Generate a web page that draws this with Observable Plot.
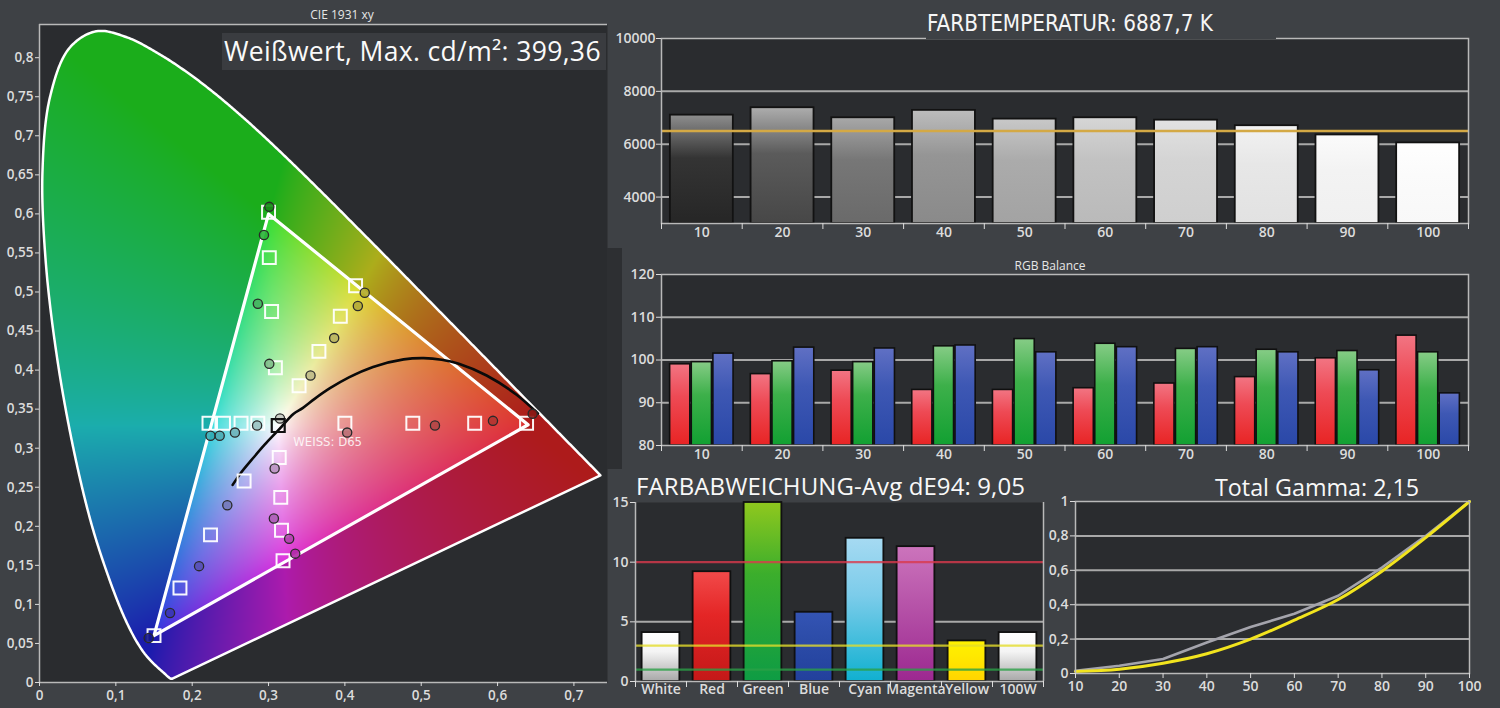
<!DOCTYPE html>
<html><head><meta charset="utf-8">
<script src="https://cdn.jsdelivr.net/npm/d3@7"></script>
<script src="https://cdn.jsdelivr.net/npm/@observablehq/plot@0.6"></script>
<style>
html,body{margin:0;padding:0;background:#3e4145;}
#root{position:relative;width:1500px;height:708px;overflow:hidden;background:#3e4145;font-family:"Open Sans",sans-serif;}
#root svg{position:absolute;overflow:visible;}
.t{position:absolute;white-space:nowrap;color:#f2f2f2;}
</style>
</head><body>
<div id="root"></div>
<script>
// ---------------- DATA ----------------
// CIE 1931 spectral locus (380..700 nm)
const locusX = [0.1741,0.1740,0.1738,0.1736,0.1733,0.1730,0.1726,0.1721,0.1714,0.1703,0.1689,0.1669,0.1644,0.1611,0.1566,0.1510,0.1440,0.1355,0.1241,0.1096,0.0913,0.0687,0.0454,0.0235,0.0082,0.0039,0.0139,0.0389,0.0743,0.1142,0.1547,0.1929,0.2296,0.2658,0.3016,0.3373,0.3731,0.4087,0.4441,0.4788,0.5125,0.5448,0.5752,0.6029,0.6270,0.6482,0.6658,0.6801,0.6915,0.7006,0.7079,0.7140,0.7190,0.7230,0.7260,0.7283,0.7300,0.7347];
const locusY = [0.0050,0.0050,0.0049,0.0049,0.0048,0.0048,0.0048,0.0048,0.0051,0.0058,0.0069,0.0086,0.0109,0.0138,0.0177,0.0227,0.0297,0.0399,0.0578,0.0868,0.1327,0.2007,0.2950,0.4127,0.5384,0.6548,0.7502,0.8120,0.8338,0.8262,0.8059,0.7816,0.7543,0.7243,0.6923,0.6589,0.6245,0.5896,0.5547,0.5202,0.4866,0.4544,0.4242,0.3965,0.3725,0.3514,0.3340,0.3197,0.3083,0.2993,0.2920,0.2859,0.2809,0.2770,0.2740,0.2717,0.2700,0.2653];
// Rec.709 gamut triangle R, G, B
const gamutX = [0.64, 0.30, 0.15];
const gamutY = [0.33, 0.60, 0.06];
// Planckian locus (25000 K .. 1000 K)
const planckX = [0.2530,0.2637,0.2807,0.2952,0.3135,0.3325,0.3451,0.3608,0.3805,0.4053,0.4369,0.4770,0.5033,0.5267,0.5493,0.5857,0.6249,0.6528];
const planckY = [0.2530,0.2683,0.2884,0.3048,0.3237,0.3439,0.3516,0.3635,0.3768,0.3907,0.4041,0.4137,0.4153,0.4133,0.4082,0.3931,0.3684,0.3444];
// target points (squares)
const targetX = [0.300,0.301,0.304,0.309, 0.414,0.394,0.366,0.340, 0.222,0.241,0.264,0.286, 0.400,0.489,0.570,0.638, 0.268,0.224,0.184,0.150, 0.314,0.316,0.317,0.319];
const targetY = [0.602,0.544,0.475,0.403, 0.508,0.469,0.424,0.380, 0.332,0.332,0.332,0.332, 0.332,0.332,0.332,0.332, 0.258,0.189,0.121,0.060, 0.288,0.237,0.195,0.156];
// measured points (circles)
const measX = [0.301,0.294,0.286,0.301, 0.426,0.417,0.386,0.355, 0.224,0.236,0.256,0.285, 0.315,0.403,0.518,0.594,0.646, 0.308,0.246,0.307,0.327,0.335, 0.209,0.171,0.143];
const measY = [0.609,0.573,0.485,0.408, 0.499,0.482,0.441,0.393, 0.316,0.316,0.320,0.329, 0.338,0.320,0.329,0.335,0.344, 0.274,0.227,0.210,0.184,0.165, 0.149,0.089,0.057];
const whitePoint = [0.3127, 0.329];
const whiteLabel = "WEISS: D65";
const cieTitle = "CIE 1931 xy";
const cieLabel = "Weißwert, Max. cd/m²: 399,36";
const cieXTicks = [0,0.1,0.2,0.3,0.4,0.5,0.6,0.7];
const cieYTicks = [0,0.05,0.1,0.15,0.2,0.25,0.3,0.35,0.4,0.45,0.5,0.55,0.6,0.65,0.7,0.75,0.8];

// Farbtemperatur
const levels = ["10","20","30","40","50","60","70","80","90","100"];
const colorTemp = [7100, 7380, 7000, 7280, 6950, 7000, 6910, 6700, 6350, 6050];
const tempTarget = 6500;
const tempTicks = [4000, 6000, 8000, 10000];
const tempTitle = "FARBTEMPERATUR: 6887,7 K";

// RGB Balance
const rgbRed   = [99.0, 96.7, 97.5, 93.0, 93.0, 93.4, 94.5, 96.0, 100.4, 105.7];
const rgbGreen = [99.5, 99.7, 99.5, 103.2, 104.9, 103.8, 102.6, 102.4, 102.1, 101.8];
const rgbBlue  = [101.5, 102.9, 102.7, 103.4, 101.8, 103.0, 103.0, 101.8, 97.6, 92.2];
const rgbTicks = [80, 90, 100, 110, 120];
const rgbTitle = "RGB Balance";

// Farbabweichung
const deCats = ["White","Red","Green","Blue","Cyan","Magenta","Yellow","100W"];
const deValues = [4.1, 9.2, 16.5, 5.8, 12.0, 11.3, 3.4, 4.1];
const deLimits = [10, 3, 1];
const deTicks = [0, 5, 10, 15];
const deTitle = "FARBABWEICHUNG-Avg dE94: 9,05";

// Gamma
const gammaLevels = [10, 20, 30, 40, 50, 60, 70, 80, 90, 100];
const gammaMeasured = [0.016, 0.045, 0.084, 0.18, 0.27, 0.347, 0.452, 0.616, 0.80, 1.0];
const gammaTarget = [0.012, 0.025, 0.06, 0.115, 0.20, 0.31, 0.43, 0.595, 0.79, 1.0];
const gammaYTicks = [0, 0.2, 0.4, 0.6, 0.8, 1];
const gammaTitle = "Total Gamma: 2,15";

// ---------------- STYLES ----------------
const BG = "#3e4145", PLOTBG = "#2a2c2f", LINE = "#b9b9b9", GRID = "#a9a9a9", TXT = "#dcdcdc";
const tempGrad = [["#8e8e8e","#343434","#262626"],["#adadad","#5b5b5b","#474747"],["#a8a8a8","#777777","#6a6a6a"],["#bdbdbd","#959595","#8a8a8a"],["#c8c8c8","#ababab","#a3a3a3"],["#d6d6d6","#c2c2c2","#bababa"],["#e2e2e2","#d4d4d4","#cfcfcf"],["#f2f2f2","#e7e7e7","#e2e2e2"],["#fbfbfb","#f3f3f3","#f0f0f0"],["#ffffff","#fbfbfb","#f8f8f8"]];
const rgbGrad = [["#f27583","#ee4a55","#e82424"],["#86cc86","#3db04a","#12a032"],["#6070c4","#3e58b4","#2a48a8"]];
const deGrad = [["#ffffff","#f4f4f4","#a8a8a8"],["#f24a4a","#e42626","#c41818"],["#90c81e","#3cae2c","#0e9c44"],["#3454b4","#2c4ca8","#22409c"],["#a6daf2","#7cccea","#10b0d0"],["#cc74bc","#b856aa","#9c2890"],["#fff200","#ffe800","#ffd400"],["#ffffff","#f4f4f4","#a8a8a8"]];

const gradDefs = [];
const addGrad = (id, stops) => gradDefs.push(`<linearGradient id="${id}" x1="0" y1="0" x2="0" y2="1"><stop offset="0" stop-color="${stops[0]}"/><stop offset="0.4" stop-color="${stops[1]}"/><stop offset="1" stop-color="${stops[2]}"/></linearGradient>`);
tempGrad.forEach((s, i) => addGrad("ft" + i, s));
rgbGrad.forEach((s, i) => addGrad("rgb" + i, s));
deGrad.forEach((s, i) => addGrad("de" + i, s));

const root = document.getElementById("root");
root.insertAdjacentHTML("beforeend", `<svg width="0" height="0" style="position:absolute"><defs>${gradDefs.join("")}</defs><path id="tmpPath"/></svg>`);

function place(svg, left, top) { svg.style.left = left + "px"; svg.style.top = top + "px"; root.appendChild(svg); }
function label(text, css) { const d = document.createElement("div"); d.className = "t"; d.textContent = text; Object.assign(d.style, css); root.appendChild(d); }
const comma = d => d === 0 ? "0" : String(Math.round(d * 100) / 100).replace(".", ",");
const baseStyle = (fs) => ({background: "transparent", color: TXT, fontSize: fs + "px", fontFamily: "'Open Sans', sans-serif", fontWeight: "600", overflow: "visible"});

// ---------------- CIE ----------------
const locusPts = locusX.map((x, i) => [x, locusY[i]]);
// smooth the locus (centripetal Catmull-Rom, as drawn) and close it with the purple line
const S = 1000;
const tmp = document.getElementById("tmpPath");
tmp.setAttribute("d", d3.line().curve(d3.curveCatmullRom)(locusPts.map(([x, y]) => [x * S, y * S])));
const L = tmp.getTotalLength();
const locus = d3.range(0, 801).map(k => { const p = tmp.getPointAtLength(L * k / 800); return [p.x / S, p.y / S]; });
const gamutPoly = gamutX.map((x, i) => [x, gamutY[i]]);

const pOut = v => Math.pow(v, 1 / 1.6);
const pIn = v => Math.pow(v, 1 / 2.0);
function chroma(x, y, dark = 1) {
  const X = x / y, Z = (1 - x - y) / y;
  let r = 3.2406 * X - 1.5372 - 0.4986 * Z;
  let g = -0.9689 * X + 1.8758 + 0.0415 * Z;
  let b = 0.0557 * X - 0.2040 + 1.0570 * Z;
  r = Math.max(r, 0); g = Math.max(g, 0); b = Math.max(b, 0);
  const m = Math.max(r, g, b) || 1;
  r = 0.95 * r / m + 0.05; g = 0.95 * g / m + 0.05; b = 0.95 * b / m + 0.05;
  const s = 1 - Math.min(r, g, b);
  const inside = d3.polygonContains(gamutPoly, [x, y]);
  const k = (inside ? 1 - 0.14 * s : 1 - 0.34 * s) * dark;
  const p = inside ? pIn : pOut;
  const c = [r, g, b].map(v => p(v) * k);
  return `rgb(${Math.round(c[0] * 255)},${Math.round(c[1] * 255)},${Math.round(c[2] * 255)})`;
}
const xMax = 0.744, yMax = 0.8425;
const targets = targetX.map((x, i) => ({x, y: targetY[i]}));
const meas = measX.map((x, i) => ({x, y: measY[i]}));
const gamut = [0, 1, 2, 0].map(i => ({x: gamutX[i], y: gamutY[i]}));
const outline = [...locus, locus[0]].map(([x, y]) => ({x, y}));
const planck = planckX.map((x, i) => ({x, y: planckY[i]}));

const cie = Plot.plot({
  width: 610, height: 708,
  marginLeft: 39, marginTop: 24, marginRight: 3, marginBottom: 26,
  style: baseStyle(13.5),
  color: {type: "identity"},
  x: {domain: [0, xMax]},
  y: {domain: [0, yMax]},
  marks: [
    Plot.frame({fill: PLOTBG}),
    Plot.raster({x1: 0, x2: xMax, y1: 0, y2: yMax,
      fill: (x, y) => d3.polygonContains(locus, [x, y]) ? chroma(x, y) : null}),
    Plot.line(outline, {x: "x", y: "y", stroke: "white", strokeWidth: 2.5}),
    Plot.line(gamut, {x: "x", y: "y", stroke: "white", strokeWidth: 3.2}),
    Plot.line(planck, {x: "x", y: "y", stroke: "#0a0a0a", strokeWidth: 2.6, curve: "catmull-rom"}),
    Plot.dot(targets, {x: "x", y: "y", symbol: "square", r: 7.3, stroke: "white", strokeWidth: 2, fill: "none", strokeOpacity: 0.95}),
    Plot.dot(meas, {x: "x", y: "y", r: 4.6, fill: d => chroma(d.x, d.y, 0.8), stroke: "#2a2a2a", strokeWidth: 1.3, fillOpacity: 0.9}),
    Plot.dot([whitePoint], {x: d => d[0], y: d => d[1], symbol: "square", r: 7.3, stroke: "#111", strokeWidth: 2.2, fill: "none"}),
    Plot.text([whitePoint], {x: d => d[0], y: d => d[1], text: () => whiteLabel, dx: 15, dy: 16, textAnchor: "start", fill: "white", fillOpacity: 0.85, fontSize: 13, fontWeight: 400, fontFamily: "'DejaVu Sans Condensed','DejaVu Sans',sans-serif"}),
    Plot.ruleX([0], {stroke: LINE, strokeWidth: 1.5}),
    Plot.ruleY([yMax], {stroke: LINE, strokeWidth: 1.5}),
    Plot.ruleY([0], {stroke: LINE, strokeWidth: 1.5}),
    Plot.axisX({ticks: cieXTicks, tickFormat: comma, tickSize: 4, tickPadding: 4, label: null}),
    Plot.axisY({ticks: cieYTicks, tickFormat: comma, tickSize: 4, tickPadding: 2, label: null})
  ]
});
place(cie, 0, 0);
label(cieTitle, {left: "242px", width: "200px", textAlign: "center", top: "6px", fontSize: "12px", color: "#e6e6e6"});
label(cieLabel, {left: "222px", top: "33px", width: "384px", height: "37px", lineHeight: "37px", fontSize: "26.5px", letterSpacing: "0.35px", background: "#3a3c40", paddingLeft: "2px", boxSizing: "border-box", color: "#fafafa"});

// strip between panels
const strip = document.createElement("div");
Object.assign(strip.style, {position: "absolute", left: "607px", top: "248px", width: "15px", height: "221px", background: "#2d2f32"});
root.appendChild(strip);

// ---------------- FARBTEMPERATUR ----------------
const idx10 = levels.map((d, i) => i + 1);
const bounds10 = d3.range(levels.length + 1).map(i => i + 0.5);
const temp = Plot.plot({
  width: 892, height: 248, marginLeft: 53, marginRight: 32, marginTop: 38, marginBottom: 25,
  style: baseStyle(14),
  x: {domain: [0.5, levels.length + 0.5]},
  y: {domain: [3000, 10000]},
  marks: [
    Plot.frame({fill: PLOTBG}),
    Plot.ruleY([4000, 6000, 8000], {stroke: GRID, strokeWidth: 2}),
    Plot.rectY(colorTemp, {x1: (d, i) => i + 1 - 0.39, x2: (d, i) => i + 1 + 0.39, y1: 3000, y2: d => d,
      fill: (d, i) => `url(#ft${i})`, stroke: "#121212", strokeWidth: 1.8}),
    Plot.ruleY([tempTarget], {stroke: "#d4a945", strokeWidth: 2.6}),
    Plot.frame({stroke: LINE, strokeWidth: 1.5}),
    Plot.axisY({ticks: tempTicks, tickSize: 5, tickPadding: 1, tickFormat: d => String(d), label: null}),
    Plot.axisX({ticks: bounds10, tickFormat: () => "", tickSize: 6, label: null}),
    Plot.axisX({ticks: idx10, tickFormat: i => levels[i - 1], tickSize: 0, tickPadding: 4, label: null})
  ]
});
place(temp, 608, 0);
label(tempTitle, {left: "926px", top: "8px", width: "350px", height: "31px", lineHeight: "31px", textAlign: "left", paddingLeft: "1px", boxSizing: "border-box", background: BG, fontSize: "22.3px", fontFamily: "'DejaVu Sans Condensed','Liberation Sans Narrow',sans-serif", fontStretch: "condensed", color: "#f6f6f6"});

// ---------------- RGB BALANCE ----------------
const rgbSeries = [rgbRed, rgbGreen, rgbBlue];
const rgbRows = rgbSeries.flatMap((vals, s) => vals.map((v, i) => ({i: i + 1, s, v})));
const rgb = Plot.plot({
  width: 892, height: 222, marginLeft: 53, marginRight: 32, marginTop: 26, marginBottom: 25,
  style: baseStyle(14),
  x: {domain: [0.5, levels.length + 0.5]},
  y: {domain: [80, 120]},
  marks: [
    Plot.frame({fill: PLOTBG}),
    Plot.ruleY([90, 100, 110], {stroke: GRID, strokeWidth: 2}),
    Plot.rectY(rgbRows, {x1: d => d.i + (d.s - 1) * 0.268 - 0.125, x2: d => d.i + (d.s - 1) * 0.268 + 0.125, y1: 80, y2: "v",
      fill: d => `url(#rgb${d.s})`, stroke: "#101010", strokeWidth: 1.6}),
    Plot.frame({stroke: LINE, strokeWidth: 1.5}),
    Plot.axisY({ticks: rgbTicks, tickSize: 5, tickPadding: 2, label: null}),
    Plot.axisX({ticks: bounds10, tickFormat: () => "", tickSize: 6, label: null}),
    Plot.axisX({ticks: idx10, tickFormat: i => levels[i - 1], tickSize: 0, tickPadding: 4, label: null})
  ]
});
place(rgb, 608, 248);
label(rgbTitle, {left: "1000px", width: "100px", textAlign: "center", top: "257px", fontSize: "12px", color: "#e6e6e6"});

// ---------------- FARBABWEICHUNG ----------------
const idx8 = deCats.map((d, i) => i + 1);
const bounds8 = d3.range(deCats.length + 1).map(i => i + 0.5);
const limitColors = ["#d83a4c", "#e4dc2a", "#2aa046"];
const de = Plot.plot({
  width: 455, height: 238, marginLeft: 45, marginRight: 2, marginTop: 32, marginBottom: 27,
  style: baseStyle(14),
  x: {domain: [0.5, deCats.length + 0.5]},
  y: {domain: [0, 15]},
  marks: [
    Plot.frame({fill: PLOTBG}),
    Plot.ruleY([5], {stroke: GRID, strokeWidth: 2}),
    Plot.rectY(deValues, {x1: (d, i) => i + 1 - 0.37, x2: (d, i) => i + 1 + 0.37, y1: 0, y2: d => Math.min(d, 15),
      fill: (d, i) => `url(#de${i})`, stroke: "#101010", strokeWidth: 1.8}),
    Plot.ruleY(deLimits, {stroke: (d, i) => limitColors[i], strokeWidth: 2.2, strokeOpacity: 0.8}),
    Plot.ruleX([0.5, deCats.length + 0.5], {stroke: LINE, strokeWidth: 1.5}),
    Plot.ruleY([0], {stroke: LINE, strokeWidth: 1.5}),
    Plot.axisY({ticks: deTicks, tickSize: 5, tickPadding: 2, label: null}),
    Plot.axisX({ticks: bounds8, tickFormat: () => "", tickSize: 6, label: null}),
    Plot.axisX({ticks: idx8, tickFormat: i => deCats[i - 1], tickSize: 0, tickPadding: 3, label: null})
  ]
});
place(de, 590, 470);
label(deTitle, {left: "636px", top: "470px", fontSize: "24px", letterSpacing: "0.1px", lineHeight: "32px", color: "#f8f8f8"});

// ---------------- GAMMA ----------------
const gm = gammaLevels.map((x, i) => ({x, y: gammaMeasured[i]}));
const gt = gammaLevels.map((x, i) => ({x, y: gammaTarget[i]}));
const gamma = Plot.plot({
  width: 455, height: 238, marginLeft: 30, marginRight: 31, marginTop: 31, marginBottom: 35,
  style: baseStyle(14),
  x: {domain: [10, 100]},
  y: {domain: [0, 1]},
  marks: [
    Plot.frame({fill: PLOTBG}),
    Plot.ruleY([0.2, 0.4, 0.6, 0.8], {stroke: GRID, strokeWidth: 2}),
    Plot.line(gm, {x: "x", y: "y", stroke: "#a4a4ac", strokeWidth: 2.6}),
    Plot.line(gt, {x: "x", y: "y", stroke: "#f2e41e", strokeWidth: 3, curve: "catmull-rom"}),
    Plot.frame({stroke: LINE, strokeWidth: 1.5}),
    Plot.axisY({ticks: gammaYTicks, tickFormat: comma, tickSize: 5, tickPadding: 2, label: null}),
    Plot.axisX({ticks: gammaLevels, tickSize: 5, tickPadding: 3, label: null})
  ]
});
place(gamma, 1045, 470);
label(gammaTitle, {left: "1213px", top: "472px", width: "229px", height: "28px", lineHeight: "30px", background: BG, fontSize: "23.3px", paddingLeft: "2px", boxSizing: "border-box", color: "#f8f8f8"});
</script>
</body></html>
